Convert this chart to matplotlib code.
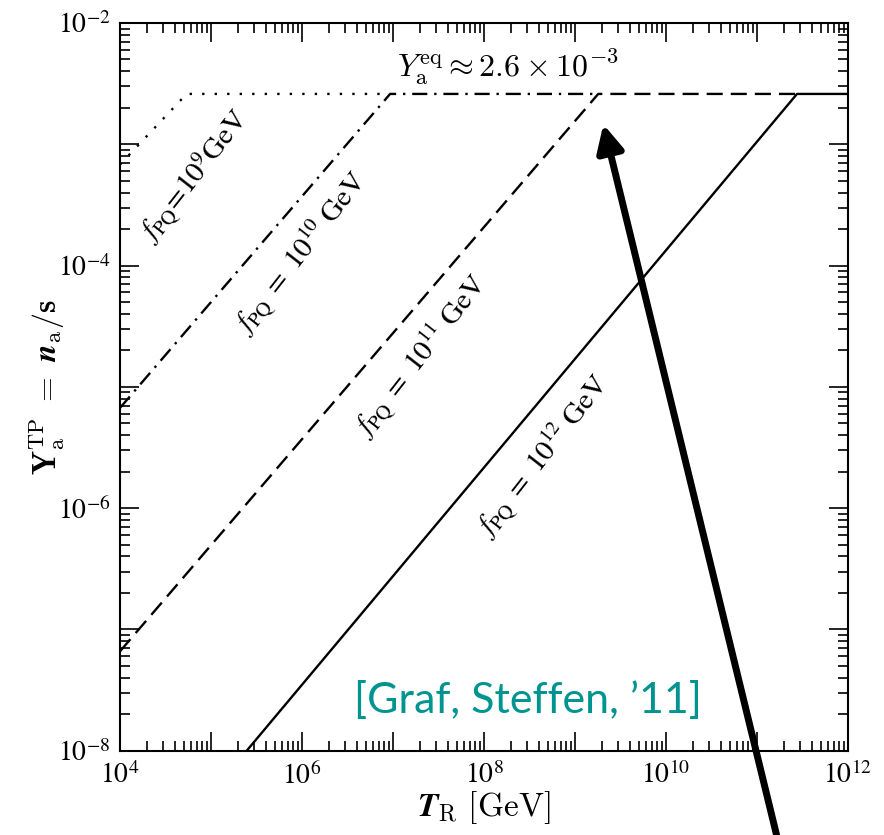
import numpy as np
import matplotlib
matplotlib.use('Agg')
import matplotlib.pyplot as plt
from matplotlib.ticker import LogLocator, FuncFormatter, NullFormatter

plt.rcParams['mathtext.fontset'] = 'stix'
plt.rcParams['font.family'] = 'Liberation Serif'
plt.rcParams['axes.unicode_minus'] = False

# Datos: Y_a^TP frente a T_R para cada f_PQ
y_eq = 2.6e-3
f_labels = [r'$f_{\rm PQ}\!=\!10^{9}{\rm GeV}$',
            r'$f_{\rm PQ}\ =\ 10^{10}\ {\rm GeV}$',
            r'$f_{\rm PQ}\ =\ 10^{11}\ {\rm GeV}$',
            r'$f_{\rm PQ}\ =\ 10^{12}\ {\rm GeV}$']
t_f9 = [1e4, 5.4e4, 9.3e6]
y_f9 = [6.8e-4, y_eq, y_eq]
t_f10 = [1e4, 9.3e6, 1.8e9]
y_f10 = [6.7e-6, y_eq, y_eq]
t_f11 = [1e4, 1.8e9, 2.75e11]
y_f11 = [6.6e-8, y_eq, y_eq]
t_f12 = [2.47e5, 2.75e11, 1e12]
y_f12 = [1e-8, y_eq, y_eq]

# posiciones de las etiquetas (T, Y)
label_pos = [(6.7e4, 5.4e-4), (9.9e5, 1.27e-4), (2.07e7, 1.77e-5), (4.5e8, 2.66e-6)]

fig = plt.figure(figsize=(8.84, 8.35), dpi=100)
ax = fig.add_axes([0.1357, 0.1009, 0.8236, 0.8716])

lw = 1.7
ax.plot(t_f9, y_f9, color='k', lw=lw, linestyle=(0, (1, 4.3)))
ax.plot(t_f10, y_f10, color='k', lw=lw, linestyle=(0, (6.4, 2.9, 1.0, 2.9)))
ax.plot(t_f11, y_f11, color='k', lw=lw, linestyle=(0, (6.8, 3.4)))
ax.plot(t_f12, y_f12, color='k', lw=lw, linestyle='-')

ax.set_xscale('log')
ax.set_yscale('log')
ax.set_xlim(1e4, 1e12)
ax.set_ylim(1e-8, 1e-2)

def fmt(v, pos):
    e = int(round(np.log10(v)))
    if e % 2 == 0:
        return r'$10^{%d}$' % e
    return ''

for axis in [ax.xaxis, ax.yaxis]:
    axis.set_major_locator(LogLocator(base=10, numticks=20))
    axis.set_minor_locator(LogLocator(base=10, subs=np.arange(2, 10), numticks=20))
    axis.set_major_formatter(FuncFormatter(fmt))
    axis.set_minor_formatter(NullFormatter())

ax.tick_params(which='both', direction='in', top=True, right=True, width=1.2, labelsize=20)
ax.tick_params(which='major', length=14)
ax.tick_params(which='minor', length=7)
ax.tick_params(axis='x', pad=8)
ax.tick_params(axis='y', pad=7)
for s in ax.spines.values():
    s.set_linewidth(1.5)

ax.set_xlabel(r'$\boldsymbol{T}_{\rm R}\ {\rm [GeV]}$', fontsize=24, labelpad=0, math_fontfamily='cm')
ax.set_ylabel(r'$\mathbf{Y}_{\rm a}^{\rm TP}\ =\ \boldsymbol{n}_{\rm a}/\mathbf{s}$', fontsize=23,
              labelpad=-7, math_fontfamily='cm')

ax.text(1.84e8, 4.3e-3, r'$Y_{\rm a}^{\rm eq} \approx 2.6 \times 10^{-3}$', fontsize=23,
        ha='center', va='center', math_fontfamily='cm')

for lab, (tx, ty) in zip(f_labels, label_pos):
    ax.text(tx, ty, lab, fontsize=21, rotation=52, ha='center', va='center',
            rotation_mode='anchor')

ax.annotate('', xy=(2.05e9, 1.46e-3), xytext=(1.64e11, 2.02e-9),
            arrowprops=dict(arrowstyle='-|>', lw=5, color='k', mutation_scale=40,
                            shrinkA=0, shrinkB=0),
            annotation_clip=False)

fig.text(0.597, 0.146, "[Graf, Steffen, \u201911]", color='#009490', fontsize=31,
         family='Lato', ha='center', va='baseline')

fig.savefig('out.png', dpi=100)
